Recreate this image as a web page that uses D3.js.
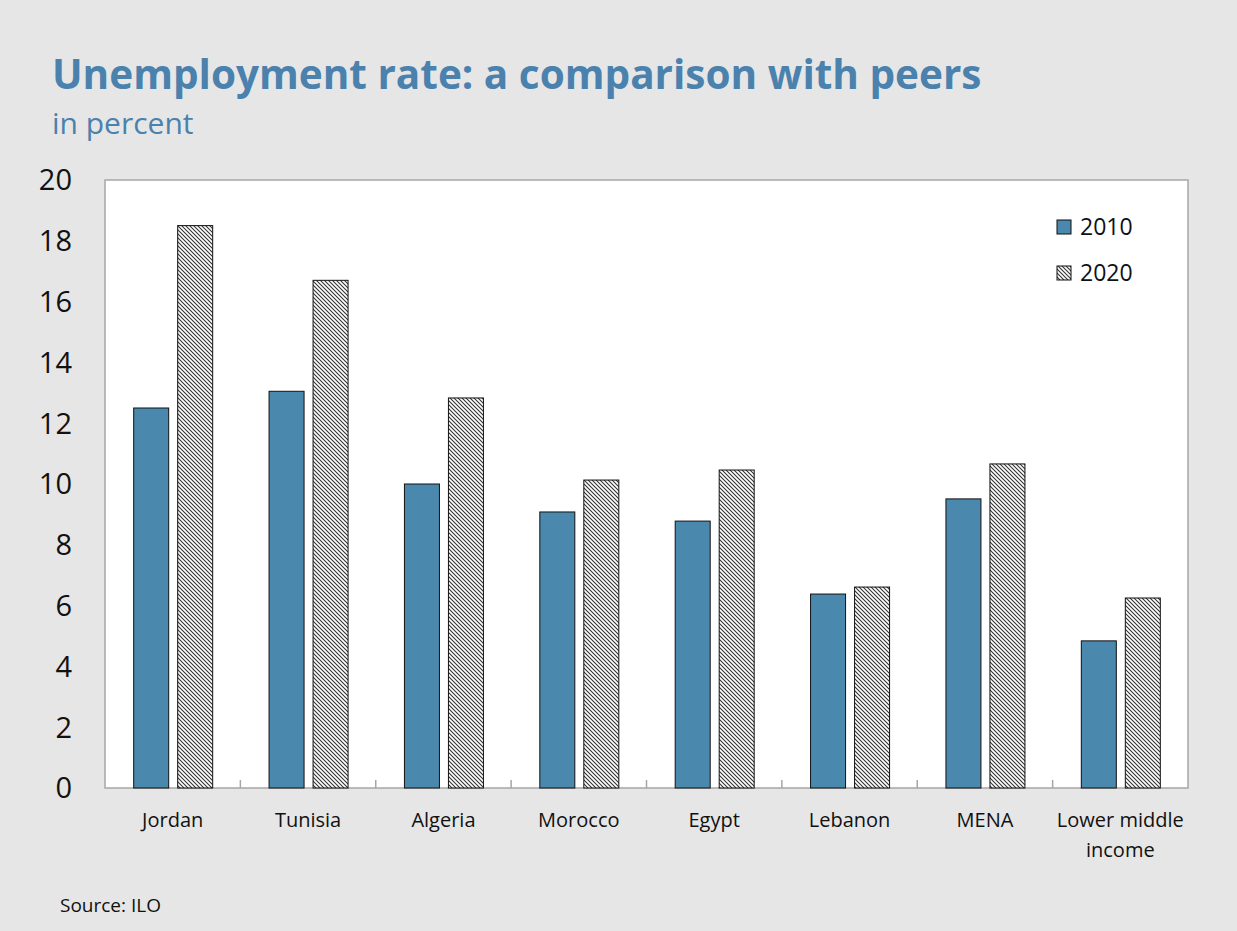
<!DOCTYPE html>
<html><head><meta charset="utf-8">
<script src="https://cdn.jsdelivr.net/npm/d3@7"></script>
<style>
html,body{margin:0;padding:0;background:#e6e6e6;}
svg{display:block;font-family:"Open Sans","Noto Sans",sans-serif;}
</style></head>
<body><svg id="c" width="1237" height="931"></svg>
<script>
const categories = ["Jordan","Tunisia","Algeria","Morocco","Egypt","Lebanon","MENA","Lower middle income"];
const series2010 = [12.5,13.05,10.0,9.08,8.78,6.38,9.51,4.84];
const series2020 = [18.5,16.7,12.83,10.13,10.46,6.61,10.66,6.25];
const seriesNames = ["2010","2020"];
const yTicks = [0,2,4,6,8,10,12,14,16,18,20];

const svg = d3.select("#c");
const W=1237,H=931;
svg.append("rect").attr("width",W).attr("height",H).attr("fill","#e6e6e6");

const defs = svg.append("defs");
const pat = defs.append("pattern").attr("id","hatch").attr("patternUnits","userSpaceOnUse")
  .attr("width",4).attr("height",4);
pat.append("rect").attr("width",4).attr("height",4).attr("fill","#fff");
pat.append("path").attr("d","M-1,-1 L5,5 M-1,3 L1,5 M3,-1 L5,1").attr("stroke","#333").attr("stroke-width",1.1);

const m={l:105,r:1188,t:180,b:788};
svg.append("rect").attr("x",m.l).attr("y",m.t).attr("width",m.r-m.l).attr("height",m.b-m.t)
  .attr("fill","#fff").attr("stroke","#a6a6a6").attr("stroke-width",1.5);

const x = d3.scaleBand().domain(categories).range([m.l,m.r]).padding(0);
const y = d3.scaleLinear().domain([0,20]).range([m.b,m.t]);

// category boundary ticks
svg.append("g").selectAll("line").data(categories.slice(1)).join("line")
  .attr("x1",d=>x(d)).attr("x2",d=>x(d)).attr("y1",m.b).attr("y2",m.b-8)
  .attr("stroke","#a6a6a6").attr("stroke-width",1.5);

const bw=35, gap=9;
const g = svg.append("g");
categories.forEach((c,i)=>{
  const cx = x(c)+x.bandwidth()/2+0.5;
  g.append("rect").attr("x",cx-gap/2-bw).attr("y",y(series2010[i])).attr("width",bw)
    .attr("height",m.b-y(series2010[i])).attr("fill","#4a89ad").attr("stroke","#111").attr("stroke-width",1);
  g.append("rect").attr("x",cx+gap/2).attr("y",y(series2020[i])).attr("width",bw)
    .attr("height",m.b-y(series2020[i])).attr("fill","url(#hatch)").attr("stroke","#111").attr("stroke-width",1);
});

// y axis labels
svg.append("g").selectAll("text").data(yTicks).join("text")
  .attr("x",72).attr("y",d=>y(d)).attr("dy","0.36em").attr("text-anchor","end")
  .attr("font-size",29).attr("fill","#111").text(d=>d);

// x labels
const xl = svg.append("g");
categories.forEach(c=>{
  const cx = x(c)+x.bandwidth()/2;
  const t = xl.append("text").attr("x",cx).attr("y",827).attr("text-anchor","middle")
    .attr("font-size",20).attr("fill","#111");
  if(c==="Lower middle income"){
    t.append("tspan").attr("x",cx).text("Lower middle");
    t.append("tspan").attr("x",cx).attr("dy",30).text("income");
  } else t.text(c);
});

// legend
const lg = svg.append("g");
lg.append("rect").attr("x",1057).attr("y",220).attr("width",14).attr("height",14).attr("fill","#4a89ad").attr("stroke","#111");
lg.append("text").attr("x",1080).attr("y",227).attr("dy","0.36em").attr("font-size",23).attr("fill","#111").text(seriesNames[0]);
lg.append("rect").attr("x",1057).attr("y",266).attr("width",14).attr("height",14).attr("fill","url(#hatch)").attr("stroke","#111");
lg.append("text").attr("x",1080).attr("y",273).attr("dy","0.36em").attr("font-size",23).attr("fill","#111").text(seriesNames[1]);

// title
svg.append("text").attr("x",52).attr("y",89).attr("font-size",40.5).attr("font-weight","bold")
  .attr("fill","#4a81ad").text("Unemployment rate: a comparison with peers");
svg.append("text").attr("x",52).attr("y",134).attr("font-size",30)
  .attr("fill","#4a81ad").text("in percent");
svg.append("text").attr("x",60).attr("y",912).attr("font-size",19).attr("fill","#111").text("Source: ILO");
</script></body></html>
